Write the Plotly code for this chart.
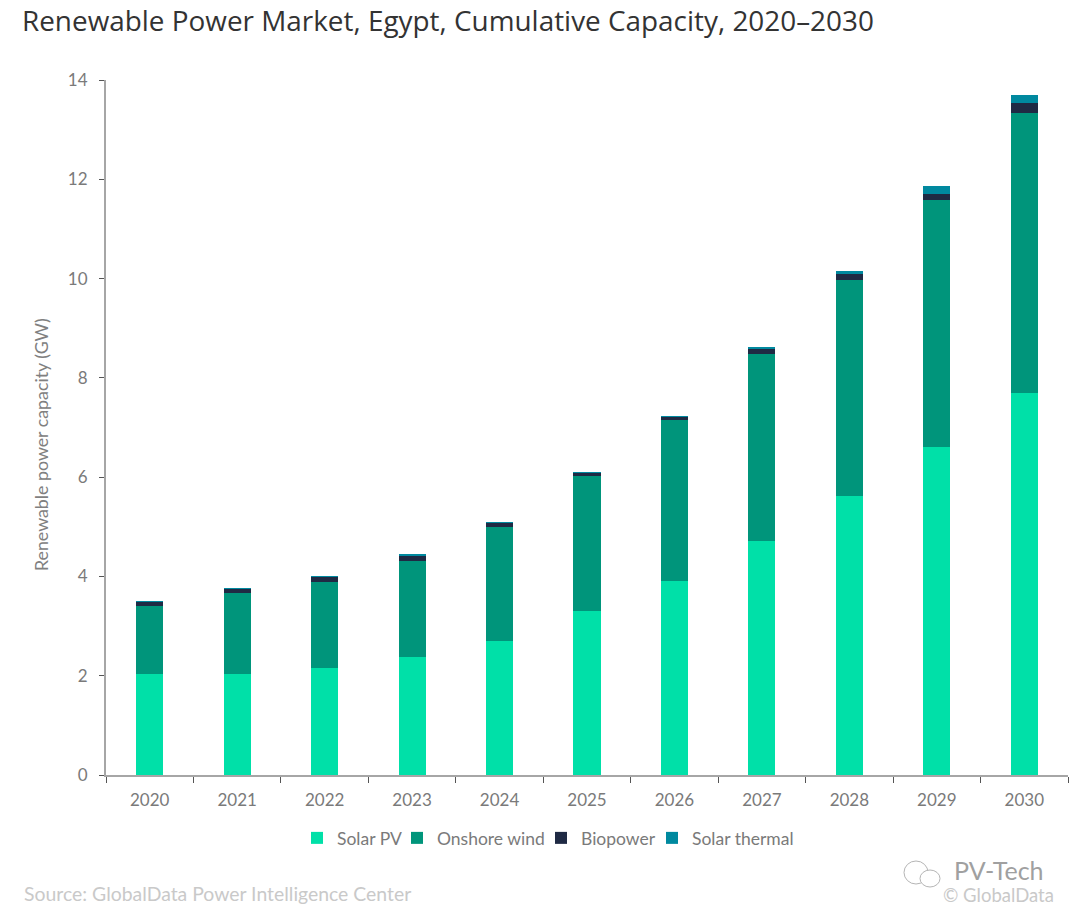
import plotly.graph_objects as go

years = ["2020","2021","2022","2023","2024","2025","2026","2027","2028","2029","2030"]
solar_pv = [2.03,2.03,2.16,2.38,2.70,3.30,3.90,4.72,5.62,6.60,7.70]
onshore_wind = [1.37,1.64,1.73,1.93,2.30,2.72,3.26,3.76,4.35,4.98,5.63]
biopower = [0.09,0.09,0.11,0.12,0.09,0.07,0.06,0.10,0.12,0.12,0.20]
solar_thermal = [0.005,0.005,0.005,0.005,0.005,0.005,0.005,0.05,0.06,0.17,0.17]

names = ["Solar PV", "Onshore wind", "Biopower", "Solar thermal"]
values = [solar_pv, onshore_wind, biopower, solar_thermal]
colors = ["#00E0A8", "#00957B", "#1F2A44", "#00899F"]
legend_ids = ["legend", "legend2", "legend3", "legend4"]
legend_left_px = [297, 397, 541, 652]

L, R, T, B = 106, 11, 80, 131
W, H = 1079, 906
PW, PH = W - L - R, H - T - B
def px(x): return (x - L) / PW
def py(y): return (H - B - y) / PH

fig = go.Figure()
for n, v, c, lid in zip(names, values, colors, legend_ids):
    fig.add_trace(go.Bar(name=n, x=years, y=v, legend=lid, marker=dict(color=c, line=dict(width=0))))

FONT = "Lato"
def leg(x):
    return dict(orientation="h", x=px(x), xanchor="left", y=py(838), yanchor="middle",
                font=dict(size=17.5, color="#7a7a7a"), bgcolor="rgba(0,0,0,0)")

fig.update_layout(
    barmode="stack", bargap=0.69, width=W, height=H,
    margin=dict(l=L, r=R, t=T, b=B),
    paper_bgcolor="white", plot_bgcolor="white",
    font=dict(family=FONT, color="#7a7a7a", size=16),
    title=dict(text="Renewable Power Market, Egypt, Cumulative Capacity, 2020–2030",
               x=22/W, xanchor="left", y=1-21/H, yanchor="middle",
               font=dict(family="Open Sans", size=27.9, color="#333333")),
    xaxis=dict(type="category", tickson="boundaries", ticks="outside", ticklen=6, tickcolor="#555555",
               showline=True, linecolor="#a6a6a6", linewidth=2, showgrid=False, ticklabelstandoff=9,
               tickfont=dict(size=17, color="#7a7a7a")),
    yaxis=dict(range=[0,14], dtick=2, ticks="outside", ticklen=5, tickcolor="#555555",
               showline=True, linecolor="#a6a6a6", linewidth=2, showgrid=False, zeroline=False,
               ticklabelstandoff=8, tickfont=dict(size=17, color="#7a7a7a")),
    legend=leg(legend_left_px[0]), legend2=leg(legend_left_px[1]),
    legend3=leg(legend_left_px[2]), legend4=leg(legend_left_px[3]),
    annotations=[
        dict(text="Renewable power capacity (GW)", textangle=-90, xref="paper", yref="paper",
             x=px(41), y=py(445), xanchor="center", yanchor="middle", showarrow=False,
             font=dict(size=17.8, color="#808080")),
        dict(text="Source: GlobalData Power Intelligence Center", xref="paper", yref="paper", x=px(22),
             y=py(893), xanchor="left", yanchor="middle", showarrow=False,
             font=dict(size=19.4, color="#c9c9c9")),
        dict(text="PV-Tech", xref="paper", yref="paper", x=px(1046), y=py(870), xanchor="right", yanchor="middle",
             showarrow=False, font=dict(size=25, color="#a0a0a0")),
        dict(text="© GlobalData", xref="paper", yref="paper", x=px(1056), y=py(895), xanchor="right", yanchor="middle",
             showarrow=False, font=dict(size=18.5, color="#c9c9c9")),
    ],
    shapes=[
        dict(type="circle", xref="paper", yref="paper", x0=px(904), x1=px(928), y0=py(884), y1=py(861),
             line=dict(color="#b5b5b5", width=1)),
        dict(type="circle", xref="paper", yref="paper", x0=px(920), x1=px(940), y0=py(887), y1=py(870),
             line=dict(color="#b5b5b5", width=1), fillcolor="white"),
    ],
    showlegend=True,
)
fig.write_html("out.html", config=dict(displayModeBar=False),
               post_script="document.body.style.margin='0';document.documentElement.style.overflow='hidden';")
